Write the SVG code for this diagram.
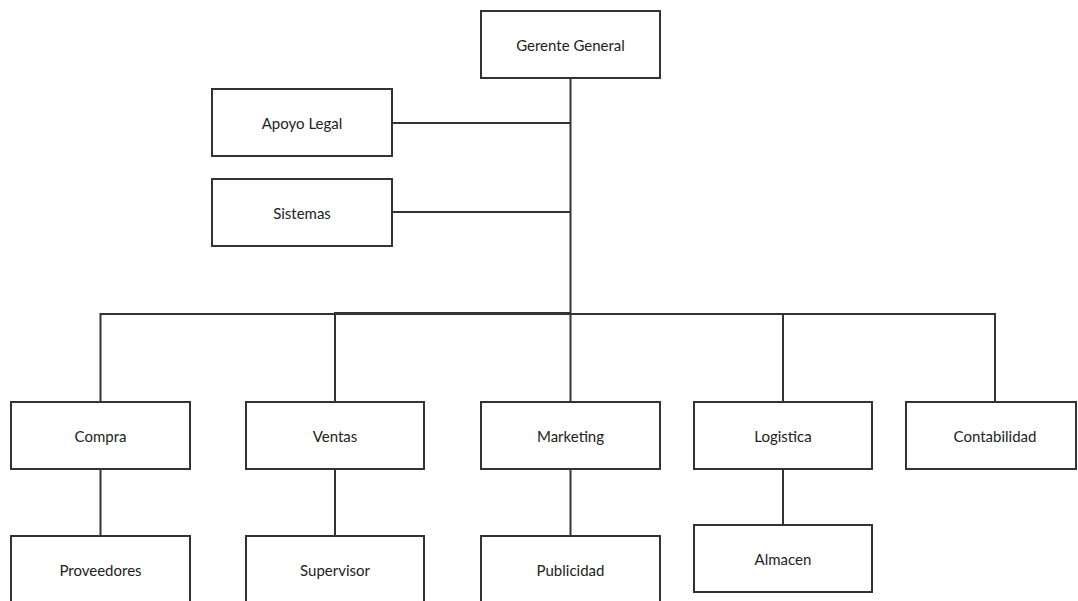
<svg xmlns="http://www.w3.org/2000/svg" width="1078" height="601" viewBox="0 0 1078 601">
<style>
.box{fill:#fff;stroke:#333;stroke-width:2}
.lbl{font-family:Lato,"Liberation Sans",sans-serif;font-size:15px;fill:#222;text-anchor:middle;dominant-baseline:central}
.con{fill:none;stroke:#333;stroke-width:2}
</style>
<rect width="1078" height="601" fill="#fff"/>
<g id="connectors">
<path class="con" d="M570.5 78 V314"/>
<path class="con" d="M392 123 H570.5"/>
<path class="con" d="M392 212 H570.5"/>
<path class="con" d="M570.5 314 H100.5 V402"/>
<path class="con" d="M570.5 313 H335 V402"/>
<path class="con" d="M570.5 314 V402"/>
<path class="con" d="M570.5 314 H783 V402"/>
<path class="con" d="M570.5 314 H995 V402"/>
<path class="con" d="M100.5 469 V536"/>
<path class="con" d="M335 469 V536"/>
<path class="con" d="M570.5 469 V536"/>
<path class="con" d="M783 469 V525"/>
</g>
<g id="gerente"><rect class="box" x="481" y="11" width="179" height="67"/><text class="lbl" x="570.5" y="44.5">Gerente General</text></g>
<g id="apoyo"><rect class="box" x="212" y="89" width="180" height="67"/><text class="lbl" x="302" y="122.5">Apoyo Legal</text></g>
<g id="sistemas"><rect class="box" x="212" y="179" width="180" height="67"/><text class="lbl" x="302" y="212.5">Sistemas</text></g>
<g id="compra"><rect class="box" x="11" y="402" width="179" height="67"/><text class="lbl" x="100.5" y="435.5">Compra</text></g>
<g id="ventas"><rect class="box" x="246" y="402" width="178" height="67"/><text class="lbl" x="335" y="435.5">Ventas</text></g>
<g id="marketing"><rect class="box" x="481" y="402" width="179" height="67"/><text class="lbl" x="570.5" y="435.5">Marketing</text></g>
<g id="logistica"><rect class="box" x="694" y="402" width="178" height="67"/><text class="lbl" x="783" y="435.5">Logistica</text></g>
<g id="contabilidad"><rect class="box" x="906" y="402" width="170" height="67"/><text class="lbl" x="995" y="435.5">Contabilidad</text></g>
<g id="proveedores"><rect class="box" x="11" y="536" width="179" height="67"/><text class="lbl" x="100.5" y="569.5">Proveedores</text></g>
<g id="supervisor"><rect class="box" x="246" y="536" width="178" height="67"/><text class="lbl" x="335" y="569.5">Supervisor</text></g>
<g id="publicidad"><rect class="box" x="481" y="536" width="179" height="67"/><text class="lbl" x="570.5" y="569.5">Publicidad</text></g>
<g id="almacen"><rect class="box" x="694" y="525" width="178" height="67"/><text class="lbl" x="783" y="558.5">Almacen</text></g>
</svg>
